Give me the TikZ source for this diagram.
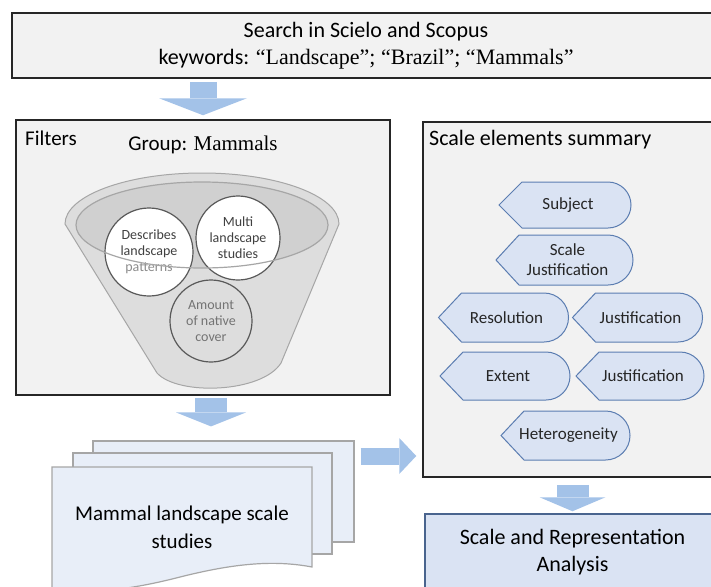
\documentclass[tikz,border=0pt]{standalone}
\usepackage{fontspec}
\setmainfont{Carlito}
\newfontfamily\timesfont{Liberation Serif}
\usetikzlibrary{positioning,arrows.meta}

\definecolor{boxgray}{HTML}{F2F2F2}
\definecolor{funnelgray}{HTML}{DDDDDD}
\definecolor{innergray}{HTML}{D0D0D0}
\definecolor{rimgray}{HTML}{A6A6A6}
\definecolor{tagblue}{HTML}{DAE3F3}
\definecolor{tagline}{HTML}{5B7DB1}
\definecolor{pageblue}{HTML}{E8EEF8}
\definecolor{arrowblue}{HTML}{A3C2E8}

\tikzset{
	graybox/.style={draw=black!85, line width=1.5pt, fill=boxgray, inner sep=0pt},
	tagfill/.style={fill=tagblue, draw=tagline, line width=1pt},
	tagtext/.style={font=\fontsize{17}{20}\selectfont, text=black!85, align=center},
	docpage/.style={draw=rimgray, line width=1.2pt, fill=pageblue},
	ring/.style={circle, draw=black!65, line width=1.2pt, align=center, inner sep=0pt, text=black!75, font=\fontsize{14}{16}\selectfont},
	blockarrow/.style={draw=arrowblue, line width=#1},
}

\begin{document}
\begin{tikzpicture}[x=1pt,y=-1pt]
				
					\useasboundingbox (0,0) rectangle (711,586);
					
					\node[graybox, minimum width=708pt, minimum height=65pt, align=center, font=\fontsize{22}{27}\selectfont] (search) at (366,45.5) {Search in Scielo and Scopus\\keywords: {\timesfont “Landscape”; “Brazil”; “Mammals”}};
					
					\node[graybox, minimum width=374pt, minimum height=275pt] (filters) at (203,257.5) {};
					\node[anchor=west, inner sep=0pt, font=\fontsize{21}{24}\selectfont] (filterslbl) at (25,138) {Filters};
					\node[font=\fontsize{21}{24}\selectfont] (group) at (203,145) {Group: {\timesfont Mammals}};
					
					\draw[fill=funnelgray, draw=rimgray, line width=1pt] (65,224) arc[start angle=180, end angle=360, x radius=137, y radius=51] -- (281,363) .. controls (262,393) and (178,396) .. (157,373) -- cycle;
					\fill[innergray] (202,225) ellipse[x radius=126, y radius=43];
					
					\node[ring, fill=white, minimum size=88pt] (describes) at (149,252) {Describes\\landscape\\\textcolor{black!45}{patterns}};
					\node[ring, fill=white, minimum size=84pt] (multi) at (238,238) {Multi\\landscape\\studies};
					\node[ring, text=black!55, minimum size=82pt] (amount) at (211,321) {Amount\\of native\\cover};
					\draw[rimgray, line width=1.2pt] (202,225) ellipse[x radius=126, y radius=43];
					
					\node[graybox, minimum width=297pt, minimum height=355pt] (summary) at (571.5,299.5) {};
					\node[anchor=west, inner sep=0pt, font=\fontsize{22}{26}\selectfont] (summarylbl) at (429,140) {Scale elements summary};
					
					\foreach \nm/\cx/\cy/\w/\h/\txt in {subject/565/205/66/23/Subject, scalejust/564.5/260/68.5/25/{Scale\\Justification}, resolution/503.5/317.5/65/24.5/Resolution, resjust/637.5/317.5/65/24.5/Justification, extent/505/376/65/24/Extent, extjust/640/376/64/24/Justification, hetero/565.5/435.5/64.5/24.5/Heterogeneity}{
						\draw[tagfill] (\cx-\w,\cy) -- (\cx-\w+23,\cy-\h) -- (\cx+\w-\h,\cy-\h) arc[start angle=-90, end angle=90, radius=\h] -- (\cx-\w+23,\cy+\h) -- cycle;
						\node[tagtext] (\nm) at (\cx+3,\cy) {\txt};
					}
					
					\node[docpage, minimum width=261pt, minimum height=101pt] (backpage) at (223.5,491.5) {};
					\node[docpage, minimum width=259pt, minimum height=101pt] (midpage) at (202.5,503.5) {};
					\draw[docpage] (52,467) -- (312,467) -- (312,567) .. controls (270,559) and (228,565) .. (180,577) .. controls (130,590) and (90,594) .. (52,590) -- cycle;
					\node[font=\fontsize{21}{28}\selectfont, align=center] (studies) at (182,527) {Mammal landscape scale\\studies};
					
					\node[draw=tagline!80!black, line width=1.5pt, fill=tagblue, minimum width=295pt, minimum height=77pt, align=center, font=\fontsize{22}{27}\selectfont] (analysis) at (572.5,552.5) {Scale and Representation\\Analysis};
					
					\draw[blockarrow=27pt, -{Triangle[width=88pt,length=17pt,line width=0pt]}, shorten <=3pt, shorten >=4pt] (filters.north |- search.south) -- (filters.north);
					\draw[blockarrow=32pt, -{Triangle[width=70pt,length=14pt,line width=0pt]}, shorten <=2pt, shorten >=14pt] ([xshift=8pt]filters.south) -- ([xshift=8pt]filters.south |- backpage.north);
					\draw[blockarrow=17pt, -{Triangle[width=36pt,length=17pt,line width=0pt]}, shorten <=6pt, shorten >=6pt] (backpage.east |- 0,456) -- (summary.west |- 0,456);
					\draw[blockarrow=32pt, -{Triangle[width=66pt,length=14pt,line width=0pt]}, shorten <=7pt, shorten >=2pt] (analysis.north |- summary.south) -- (analysis.north);

				\end{tikzpicture}
\end{document}
